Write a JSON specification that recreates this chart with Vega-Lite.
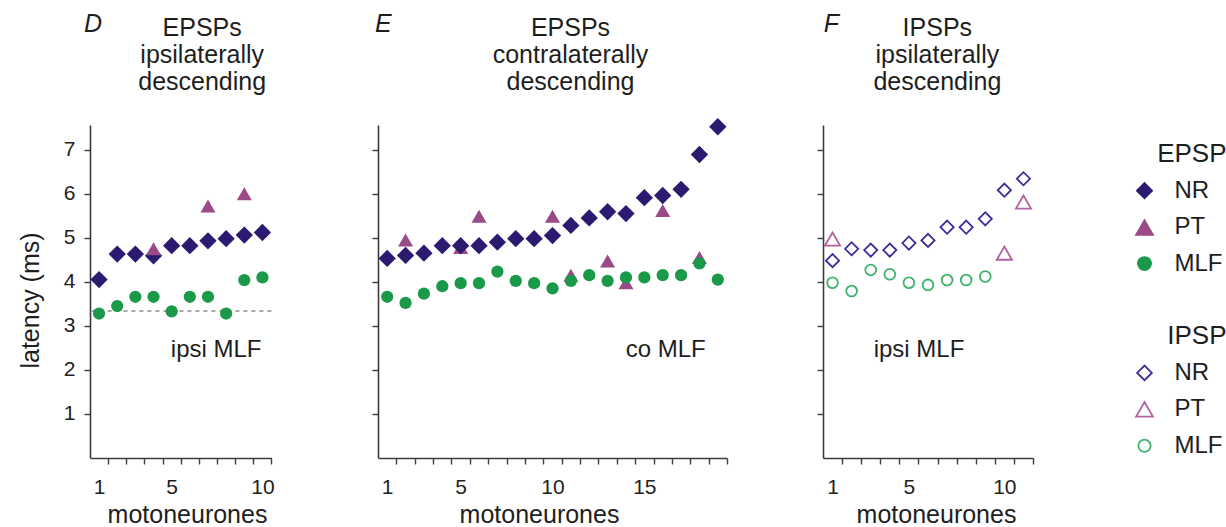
{
  "$schema": "https://vega.github.io/schema/vega-lite/v6.json",
  "background": "white",
  "padding": {"left": 18, "top": 12, "right": 0, "bottom": 0},
  "config": {
    "view": {"stroke": null},
    "font": "Liberation Sans",
    "axis": {"grid": false, "domainColor": "#3c3c3c", "domainWidth": 1.6, "tickColor": "#3c3c3c", "tickWidth": 1.4, "tickSize": 6, "labelFont": "Liberation Sans", "labelFontSize": 21, "labelColor": "#1e1e1e", "titleFont": "Liberation Sans", "titleFontSize": 25, "titleFontWeight": "normal", "titleColor": "#1e1e1e"},
    "axisX": {"labelPadding": 12, "titlePadding": 5, "tickCount": 100, "format": "d", "labelOverlap": false, "labelFlush": false,
      "labelExpr": "datum.label == '1' || datum.label == '5' || datum.label == '10' || datum.label == '15' ? datum.label : ''"},
    "axisY": {"labelPadding": 9},
    "text": {"font": "Liberation Sans", "fontSize": 24, "color": "#1e1e1e"}
  },
  "datasets": {
    "pts": [
      {"panel": "D", "n": 1, "cat": "NR", "lat": 4.05},
      {"panel": "D", "n": 2, "cat": "NR", "lat": 4.63},
      {"panel": "D", "n": 3, "cat": "NR", "lat": 4.63},
      {"panel": "D", "n": 4, "cat": "NR", "lat": 4.59},
      {"panel": "D", "n": 5, "cat": "NR", "lat": 4.82},
      {"panel": "D", "n": 6, "cat": "NR", "lat": 4.82},
      {"panel": "D", "n": 7, "cat": "NR", "lat": 4.93},
      {"panel": "D", "n": 8, "cat": "NR", "lat": 4.98},
      {"panel": "D", "n": 9, "cat": "NR", "lat": 5.06},
      {"panel": "D", "n": 10, "cat": "NR", "lat": 5.12},
      {"panel": "D", "n": 1, "cat": "MLF", "lat": 3.28},
      {"panel": "D", "n": 2, "cat": "MLF", "lat": 3.45},
      {"panel": "D", "n": 3, "cat": "MLF", "lat": 3.66},
      {"panel": "D", "n": 4, "cat": "MLF", "lat": 3.66},
      {"panel": "D", "n": 5, "cat": "MLF", "lat": 3.33},
      {"panel": "D", "n": 6, "cat": "MLF", "lat": 3.66},
      {"panel": "D", "n": 7, "cat": "MLF", "lat": 3.66},
      {"panel": "D", "n": 8, "cat": "MLF", "lat": 3.28},
      {"panel": "D", "n": 9, "cat": "MLF", "lat": 4.04},
      {"panel": "D", "n": 10, "cat": "MLF", "lat": 4.1},
      {"panel": "D", "n": 4, "cat": "PT", "lat": 4.75},
      {"panel": "D", "n": 7, "cat": "PT", "lat": 5.72},
      {"panel": "D", "n": 9, "cat": "PT", "lat": 6.0},
      {"panel": "E", "n": 2, "cat": "PT", "lat": 4.95},
      {"panel": "E", "n": 5, "cat": "PT", "lat": 4.78},
      {"panel": "E", "n": 6, "cat": "PT", "lat": 5.49},
      {"panel": "E", "n": 10, "cat": "PT", "lat": 5.49},
      {"panel": "E", "n": 11, "cat": "PT", "lat": 4.15},
      {"panel": "E", "n": 13, "cat": "PT", "lat": 4.47},
      {"panel": "E", "n": 14, "cat": "PT", "lat": 3.98},
      {"panel": "E", "n": 16, "cat": "PT", "lat": 5.62},
      {"panel": "E", "n": 18, "cat": "PT", "lat": 4.55},
      {"panel": "E", "n": 1, "cat": "NR", "lat": 4.53},
      {"panel": "E", "n": 2, "cat": "NR", "lat": 4.6},
      {"panel": "E", "n": 3, "cat": "NR", "lat": 4.65},
      {"panel": "E", "n": 4, "cat": "NR", "lat": 4.82},
      {"panel": "E", "n": 5, "cat": "NR", "lat": 4.82},
      {"panel": "E", "n": 6, "cat": "NR", "lat": 4.82},
      {"panel": "E", "n": 7, "cat": "NR", "lat": 4.9},
      {"panel": "E", "n": 8, "cat": "NR", "lat": 4.98},
      {"panel": "E", "n": 9, "cat": "NR", "lat": 4.98},
      {"panel": "E", "n": 10, "cat": "NR", "lat": 5.05},
      {"panel": "E", "n": 11, "cat": "NR", "lat": 5.28},
      {"panel": "E", "n": 12, "cat": "NR", "lat": 5.45},
      {"panel": "E", "n": 13, "cat": "NR", "lat": 5.59},
      {"panel": "E", "n": 14, "cat": "NR", "lat": 5.55},
      {"panel": "E", "n": 15, "cat": "NR", "lat": 5.91},
      {"panel": "E", "n": 16, "cat": "NR", "lat": 5.96},
      {"panel": "E", "n": 17, "cat": "NR", "lat": 6.1},
      {"panel": "E", "n": 18, "cat": "NR", "lat": 6.89},
      {"panel": "E", "n": 19, "cat": "NR", "lat": 7.52},
      {"panel": "E", "n": 1, "cat": "MLF", "lat": 3.66},
      {"panel": "E", "n": 2, "cat": "MLF", "lat": 3.52},
      {"panel": "E", "n": 3, "cat": "MLF", "lat": 3.73},
      {"panel": "E", "n": 4, "cat": "MLF", "lat": 3.9},
      {"panel": "E", "n": 5, "cat": "MLF", "lat": 3.97},
      {"panel": "E", "n": 6, "cat": "MLF", "lat": 3.97},
      {"panel": "E", "n": 7, "cat": "MLF", "lat": 4.23},
      {"panel": "E", "n": 8, "cat": "MLF", "lat": 4.02},
      {"panel": "E", "n": 9, "cat": "MLF", "lat": 3.97},
      {"panel": "E", "n": 10, "cat": "MLF", "lat": 3.85},
      {"panel": "E", "n": 11, "cat": "MLF", "lat": 4.02},
      {"panel": "E", "n": 12, "cat": "MLF", "lat": 4.15},
      {"panel": "E", "n": 13, "cat": "MLF", "lat": 4.02},
      {"panel": "E", "n": 14, "cat": "MLF", "lat": 4.1},
      {"panel": "E", "n": 15, "cat": "MLF", "lat": 4.1},
      {"panel": "E", "n": 16, "cat": "MLF", "lat": 4.15},
      {"panel": "E", "n": 17, "cat": "MLF", "lat": 4.15},
      {"panel": "E", "n": 18, "cat": "MLF", "lat": 4.42},
      {"panel": "E", "n": 19, "cat": "MLF", "lat": 4.05},
      {"panel": "F", "n": 1, "cat": "NR", "lat": 4.48},
      {"panel": "F", "n": 2, "cat": "NR", "lat": 4.75},
      {"panel": "F", "n": 3, "cat": "NR", "lat": 4.72},
      {"panel": "F", "n": 4, "cat": "NR", "lat": 4.72},
      {"panel": "F", "n": 5, "cat": "NR", "lat": 4.88},
      {"panel": "F", "n": 6, "cat": "NR", "lat": 4.94},
      {"panel": "F", "n": 7, "cat": "NR", "lat": 5.24},
      {"panel": "F", "n": 8, "cat": "NR", "lat": 5.24},
      {"panel": "F", "n": 9, "cat": "NR", "lat": 5.43},
      {"panel": "F", "n": 10, "cat": "NR", "lat": 6.08},
      {"panel": "F", "n": 11, "cat": "NR", "lat": 6.34},
      {"panel": "F", "n": 1, "cat": "PT", "lat": 4.97},
      {"panel": "F", "n": 10, "cat": "PT", "lat": 4.65},
      {"panel": "F", "n": 11, "cat": "PT", "lat": 5.81},
      {"panel": "F", "n": 1, "cat": "MLF", "lat": 3.98},
      {"panel": "F", "n": 2, "cat": "MLF", "lat": 3.79},
      {"panel": "F", "n": 3, "cat": "MLF", "lat": 4.27},
      {"panel": "F", "n": 4, "cat": "MLF", "lat": 4.17},
      {"panel": "F", "n": 5, "cat": "MLF", "lat": 3.98},
      {"panel": "F", "n": 6, "cat": "MLF", "lat": 3.93},
      {"panel": "F", "n": 7, "cat": "MLF", "lat": 4.04},
      {"panel": "F", "n": 8, "cat": "MLF", "lat": 4.04},
      {"panel": "F", "n": 9, "cat": "MLF", "lat": 4.12}
    ],
    "panels": [
      {"panel": "D", "letter": "D", "heading": "EPSPs\nipsilaterally\ndescending", "note": "ipsi MLF", "ref": 3.34},
      {"panel": "E", "letter": "E", "heading": "EPSPs\ncontralaterally\ndescending", "note": "co MLF"},
      {"panel": "F", "letter": "F", "heading": "IPSPs\nipsilaterally\ndescending", "note": "ipsi MLF"}
    ],
    "legend": [
      {"grp": "EPSP", "cat": "", "key": "EPSP"},
      {"grp": "EPSP", "cat": "NR", "key": "EPSP NR"},
      {"grp": "EPSP", "cat": "PT", "key": "EPSP PT"},
      {"grp": "EPSP", "cat": "MLF", "key": "EPSP MLF"},
      {"grp": "IPSP", "cat": "", "key": "IPSP"},
      {"grp": "IPSP", "cat": "NR", "key": "IPSP NR"},
      {"grp": "IPSP", "cat": "PT", "key": "IPSP PT"},
      {"grp": "IPSP", "cat": "MLF", "key": "IPSP MLF"}
    ]
  },
  "resolve": {"scale": {"color": "independent", "shape": "independent", "size": "independent"}},
  "spacing": 96,
  "hconcat": [
    {
      "width": 181.5,
      "height": 333,
      "layer": [
        {
          "data": {"name": "panels"},
          "transform": [{"filter": "datum.panel === 'D'"}],
          "mark": {"type": "rule", "strokeDash": [4, 4], "color": "#a9a9a9", "strokeWidth": 2},
          "encoding": {
            "y": {"field": "ref", "type": "quantitative", "title": "latency (ms)", "scale": {"domain": [0, 7.56], "nice": false}}
          }
        },
        {
          "data": {"name": "pts"},
          "transform": [{"filter": "datum.panel === 'D'"}],
          "mark": {"type": "point", "filled": true, "opacity": 1},
          "encoding": {
            "x": {"field": "n", "type": "quantitative", "title": "motoneurones", "scale": {"domain": [0.5, 10.5], "nice": false, "zero": false},
              "axis": {"values": [1, 2, 3, 4, 5, 6, 7, 8, 9, 10], "tickOffset": 9.075, "labelOffset": -9.075, "titleX": 97}},
            "y": {"field": "lat", "type": "quantitative", "title": "latency (ms)", "scale": {"domain": [0, 7.56], "nice": false},
              "axis": {"values": [1, 2, 3, 4, 5, 6, 7], "titlePadding": 20, "titleY": 175}},
            "shape": {"field": "cat", "type": "nominal", "scale": {"domain": ["NR", "PT", "MLF"], "range": ["diamond", "triangle-up", "circle"]}, "legend": null},
            "color": {"field": "cat", "type": "nominal", "scale": {"domain": ["NR", "PT", "MLF"], "range": ["#2b1a70", "#9a4a86", "#1a9a49"]}, "legend": null},
            "size": {"field": "cat", "type": "ordinal", "scale": {"type": "point", "padding": 0, "domain": ["NR", "PT", "MLF"], "range": [300, 150]}, "legend": null}
          }
        },
        {
          "data": {"name": "panels"},
          "transform": [{"filter": "datum.panel === 'D'"}],
          "mark": {"type": "text", "fontStyle": "italic", "fontSize": 25, "align": "center", "baseline": "alphabetic"},
          "encoding": {
            "x": {"datum": 0.67, "type": "quantitative", "title": "motoneurones", "scale": {"domain": [0.5, 10.5], "nice": false, "zero": false}},
            "y": {"datum": 9.67, "type": "quantitative", "title": "latency (ms)", "scale": {"domain": [0, 7.56], "nice": false}},
            "text": {"field": "letter"}
          }
        },
        {
          "data": {"name": "panels"},
          "transform": [{"filter": "datum.panel === 'D'"}],
          "mark": {"type": "text", "fontSize": 25, "align": "center", "baseline": "alphabetic", "lineBreak": "\n", "lineHeight": 27},
          "encoding": {
            "x": {"datum": 6.68, "type": "quantitative", "title": "motoneurones", "scale": {"domain": [0.5, 10.5], "nice": false, "zero": false}},
            "y": {"datum": 9.58, "type": "quantitative", "title": "latency (ms)", "scale": {"domain": [0, 7.56], "nice": false}},
            "text": {"field": "heading"}
          }
        },
        {
          "data": {"name": "panels"},
          "transform": [{"filter": "datum.panel === 'D'"}],
          "mark": {"type": "text", "fontSize": 24, "align": "center", "baseline": "middle"},
          "encoding": {
            "x": {"datum": 7.45, "type": "quantitative", "title": "motoneurones", "scale": {"domain": [0.5, 10.5], "nice": false, "zero": false}},
            "y": {"datum": 2.45, "type": "quantitative", "title": "latency (ms)", "scale": {"domain": [0, 7.56], "nice": false}},
            "text": {"field": "note"}
          }
        }
      ]
    },
    {
      "spacing": 88,
      "resolve": {"scale": {"color": "independent", "shape": "independent", "size": "independent"}},
      "hconcat": [
        {
          "width": 349,
          "height": 333,
          "layer": [
            {
              "data": {"name": "pts"},
              "transform": [{"filter": "datum.panel === 'E'"}],
              "mark": {"type": "point", "filled": true, "opacity": 1},
              "encoding": {
                "x": {"field": "n", "type": "quantitative", "title": "motoneurones", "scale": {"domain": [0.5, 19.5], "nice": false, "zero": false},
                  "axis": {"values": [1, 2, 3, 4, 5, 6, 7, 8, 9, 10, 11, 12, 13, 14, 15, 16, 17, 18, 19], "tickOffset": 9.184, "labelOffset": -9.184, "titleX": 161}},
                "y": {"field": "lat", "type": "quantitative", "title": null, "scale": {"domain": [0, 7.56], "nice": false},
                  "axis": {"values": [1, 2, 3, 4, 5, 6, 7], "labels": false, "title": null}},
                "shape": {"field": "cat", "type": "nominal", "scale": {"domain": ["NR", "PT", "MLF"], "range": ["diamond", "triangle-up", "circle"]}, "legend": null},
                "color": {"field": "cat", "type": "nominal", "scale": {"domain": ["NR", "PT", "MLF"], "range": ["#2b1a70", "#9a4a86", "#1a9a49"]}, "legend": null},
                "size": {"field": "cat", "type": "ordinal", "scale": {"type": "point", "padding": 0, "domain": ["NR", "PT", "MLF"], "range": [300, 150]}, "legend": null}
              }
            },
            {
              "data": {"name": "panels"},
              "transform": [{"filter": "datum.panel === 'E'"}],
              "mark": {"type": "text", "fontStyle": "italic", "fontSize": 25, "align": "center", "baseline": "alphabetic"},
              "encoding": {
                "x": {"datum": 0.79, "type": "quantitative", "title": "motoneurones", "scale": {"domain": [0.5, 19.5], "nice": false, "zero": false}},
                "y": {"datum": 9.67, "type": "quantitative", "title": null, "scale": {"domain": [0, 7.56], "nice": false}},
                "text": {"field": "letter"}
              }
            },
            {
              "data": {"name": "panels"},
              "transform": [{"filter": "datum.panel === 'E'"}],
              "mark": {"type": "text", "fontSize": 25, "align": "center", "baseline": "alphabetic", "lineBreak": "\n", "lineHeight": 27},
              "encoding": {
                "x": {"datum": 10.98, "type": "quantitative", "title": "motoneurones", "scale": {"domain": [0.5, 19.5], "nice": false, "zero": false}},
                "y": {"datum": 9.58, "type": "quantitative", "title": null, "scale": {"domain": [0, 7.56], "nice": false}},
                "text": {"field": "heading"}
              }
            },
            {
              "data": {"name": "panels"},
              "transform": [{"filter": "datum.panel === 'E'"}],
              "mark": {"type": "text", "fontSize": 24, "align": "center", "baseline": "middle"},
              "encoding": {
                "x": {"datum": 16.16, "type": "quantitative", "title": "motoneurones", "scale": {"domain": [0.5, 19.5], "nice": false, "zero": false}},
                "y": {"datum": 2.45, "type": "quantitative", "title": null, "scale": {"domain": [0, 7.56], "nice": false}},
                "text": {"field": "note"}
              }
            }
          ]
        },
        {
          "width": 210,
          "height": 333,
          "layer": [
            {
              "data": {"name": "pts"},
              "transform": [{"filter": "datum.panel === 'F'"}],
              "mark": {"type": "point", "filled": false, "opacity": 1, "strokeWidth": 1.8},
              "encoding": {
                "x": {"field": "n", "type": "quantitative", "title": "motoneurones", "scale": {"domain": [0.5, 11.5], "nice": false, "zero": false},
                  "axis": {"values": [1, 2, 3, 4, 5, 6, 7, 8, 9, 10, 11], "tickOffset": 9.545, "labelOffset": -9.545, "titleX": 113}},
                "y": {"field": "lat", "type": "quantitative", "title": null, "scale": {"domain": [0, 7.56], "nice": false},
                  "axis": {"values": [1, 2, 3, 4, 5, 6, 7], "labels": false, "title": null}},
                "shape": {"field": "cat", "type": "nominal", "scale": {"domain": ["NR", "PT", "MLF"], "range": ["diamond", "triangle-up", "circle"]}, "legend": null},
                "color": {"field": "cat", "type": "nominal", "scale": {"domain": ["NR", "PT", "MLF"], "range": ["#3a2e9c", "#b1619f", "#3db46c"]}, "legend": null},
                "size": {"field": "cat", "type": "ordinal", "scale": {"type": "point", "padding": 0, "domain": ["PT", "NR", "MLF"], "range": [230, 116]}, "legend": null}
              }
            },
            {
              "data": {"name": "panels"},
              "transform": [{"filter": "datum.panel === 'F'"}],
              "mark": {"type": "text", "fontStyle": "italic", "fontSize": 25, "align": "center", "baseline": "alphabetic"},
              "encoding": {
                "x": {"datum": 0.94, "type": "quantitative", "title": "motoneurones", "scale": {"domain": [0.5, 11.5], "nice": false, "zero": false}},
                "y": {"datum": 9.67, "type": "quantitative", "title": null, "scale": {"domain": [0, 7.56], "nice": false}},
                "text": {"field": "letter"}
              }
            },
            {
              "data": {"name": "panels"},
              "transform": [{"filter": "datum.panel === 'F'"}],
              "mark": {"type": "text", "fontSize": 25, "align": "center", "baseline": "alphabetic", "lineBreak": "\n", "lineHeight": 27},
              "encoding": {
                "x": {"datum": 6.49, "type": "quantitative", "title": "motoneurones", "scale": {"domain": [0.5, 11.5], "nice": false, "zero": false}},
                "y": {"datum": 9.58, "type": "quantitative", "title": null, "scale": {"domain": [0, 7.56], "nice": false}},
                "text": {"field": "heading"}
              }
            },
            {
              "data": {"name": "panels"},
              "transform": [{"filter": "datum.panel === 'F'"}],
              "mark": {"type": "text", "fontSize": 24, "align": "center", "baseline": "middle"},
              "encoding": {
                "x": {"datum": 5.53, "type": "quantitative", "title": "motoneurones", "scale": {"domain": [0.5, 11.5], "nice": false, "zero": false}},
                "y": {"datum": 2.45, "type": "quantitative", "title": null, "scale": {"domain": [0, 7.56], "nice": false}},
                "text": {"field": "note"}
              }
            }
          ]
        },
        {
          "width": 43,
          "height": 350,
          "data": {"name": "legend"},
          "encoding": {
            "y": {"field": "key", "type": "nominal", "axis": null,
              "scale": {"type": "point", "domain": ["EPSP", "EPSP NR", "EPSP PT", "EPSP MLF", "gap", "IPSP", "IPSP NR", "IPSP PT", "IPSP MLF"], "padding": 0.8, "align": 0.5}}
          },
          "resolve": {"scale": {"color": "independent", "shape": "independent", "size": "independent"}},
          "layer": [
            {
              "transform": [{"filter": "datum.cat === ''"}],
              "mark": {"type": "text", "fontSize": 26, "align": "right", "baseline": "middle", "dx": 82},
              "encoding": {"text": {"field": "grp"}}
            },
            {
              "transform": [{"filter": "datum.grp === 'EPSP' && datum.cat !== ''"}],
              "mark": {"type": "point", "filled": true, "opacity": 1},
              "encoding": {
                "shape": {"field": "cat", "type": "nominal", "scale": {"domain": ["NR", "PT", "MLF"], "range": ["diamond", "triangle-up", "circle"]}, "legend": null},
                "color": {"field": "cat", "type": "nominal", "scale": {"domain": ["NR", "PT", "MLF"], "range": ["#2b1a70", "#9a4a86", "#1a9a49"]}, "legend": null},
                "size": {"field": "cat", "type": "ordinal", "scale": {"type": "point", "padding": 0, "domain": ["PT", "NR", "MLF"], "range": [400, 220]}, "legend": null}
              }
            },
            {
              "transform": [{"filter": "datum.grp === 'IPSP' && datum.cat !== ''"}],
              "mark": {"type": "point", "filled": false, "opacity": 1, "strokeWidth": 1.8},
              "encoding": {
                "shape": {"field": "cat", "type": "nominal", "scale": {"domain": ["NR", "PT", "MLF"], "range": ["diamond", "triangle-up", "circle"]}, "legend": null},
                "color": {"field": "cat", "type": "nominal", "scale": {"domain": ["NR", "PT", "MLF"], "range": ["#3a2e9c", "#b1619f", "#3db46c"]}, "legend": null},
                "size": {"field": "cat", "type": "ordinal", "scale": {"type": "point", "padding": 0, "domain": ["PT", "NR", "MLF"], "range": [280, 150]}, "legend": null}
              }
            },
            {
              "transform": [{"filter": "datum.cat !== ''"}],
              "mark": {"type": "text", "fontSize": 24, "align": "left", "baseline": "middle", "dx": 30},
              "encoding": {"text": {"field": "cat"}}
            }
          ]
        }
      ]
    }
  ]
}
